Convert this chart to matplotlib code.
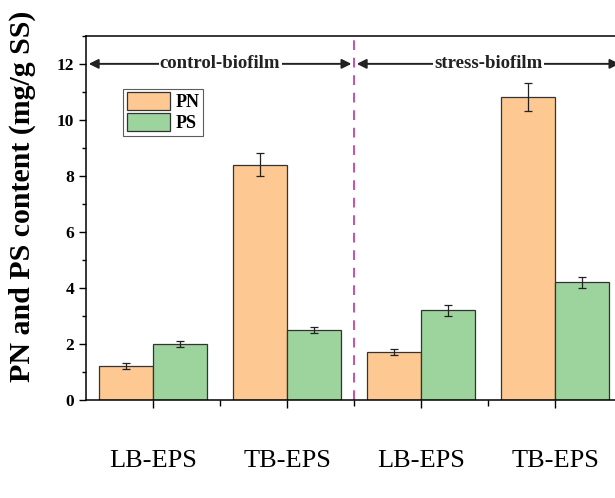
import numpy as np
import matplotlib
matplotlib.use('Agg')
import matplotlib.pyplot as plt
from matplotlib.ticker import MultipleLocator, FixedLocator

# data
categories = ['LB-EPS', 'TB-EPS', 'LB-EPS', 'TB-EPS']
pn_vals = [1.2, 8.4, 1.7, 10.8]
pn_err = [0.1, 0.4, 0.1, 0.5]
ps_vals = [2.0, 2.5, 3.2, 4.2]
ps_err = [0.1, 0.1, 0.2, 0.2]
groups = ['control-biofilm', 'stress-biofilm']

plt.rcParams['font.family'] = 'Liberation Serif'

fig = plt.figure(figsize=(6.15, 4.98), dpi=100)
ax = fig.add_axes([0.140, 0.197, 0.8715, 0.731])

x = np.arange(1, len(categories) + 1)
w = 0.4
ekw = dict(elinewidth=0.9, capthick=0.9, ecolor='#222222')
ax.bar(x - w / 2, pn_vals, w, yerr=pn_err, capsize=3, color='#FDC891',
       edgecolor='#333333', linewidth=0.9, label='PN', error_kw=ekw)
ax.bar(x + w / 2, ps_vals, w, yerr=ps_err, capsize=3, color='#9DD39C',
       edgecolor='#333333', linewidth=0.9, label='PS', error_kw=ekw)

ax.set_xlim(0.5, 4.5)
ax.set_ylim(0, 13)

# divider between groups
ax.axvline(2.5, color='#C94FAE', linestyle=(0, (5, 4)), linewidth=1.4)

# group annotations with arrows
for i, g in enumerate(groups):
    x0 = 0.5 + 2 * i
    x1 = x0 + 2
    xc = (x0 + x1) / 2
    for xe in (x0 + 0.02, x1 - 0.02):
        ax.annotate('', xy=(xe, 12), xytext=(xc, 12),
                    arrowprops=dict(arrowstyle='-|>', color='#222222', lw=1.4,
                                    mutation_scale=14, shrinkA=0, shrinkB=0))
    ax.text(xc, 12, g, ha='center', va='center', fontsize=13.5, fontweight='bold',
            color='#222222', bbox=dict(facecolor='white', edgecolor='none', pad=1.0))

ax.xaxis.set_major_locator(FixedLocator(x))
ax.xaxis.set_minor_locator(FixedLocator([1.5, 2.5, 3.5]))
ax.set_xticklabels(categories, fontsize=19)
ax.tick_params(axis='x', which='major', length=6, width=1.0, pad=30)
ax.tick_params(axis='x', which='minor', length=4, width=1.0)

ax.yaxis.set_major_locator(MultipleLocator(2))
ax.yaxis.set_minor_locator(MultipleLocator(1))
ax.tick_params(axis='y', which='major', length=5, width=1.0, labelsize=12.5)
ax.tick_params(axis='y', which='minor', length=3, width=1.0)
for lbl in ax.get_yticklabels():
    lbl.set_fontweight('bold')

ax.set_ylabel('PN and PS content (mg/g SS)', fontsize=21.5, fontweight='bold')
ax.yaxis.set_label_coords(-0.093, 0.56)

for s in ['left', 'bottom', 'top']:
    ax.spines[s].set_linewidth(1.1)
ax.spines['right'].set_visible(False)

leg = ax.legend(loc='upper left', bbox_to_anchor=(0.069, 0.855), frameon=True,
                fancybox=False, edgecolor='#333333', prop={'weight': 'bold', 'size': 13},
                handlelength=2.4, handleheight=1.1, handletextpad=0.3,
                borderpad=0.2, labelspacing=0.12, borderaxespad=0)
leg.get_frame().set_linewidth(0.8)

fig.savefig('out.png', dpi=100)
